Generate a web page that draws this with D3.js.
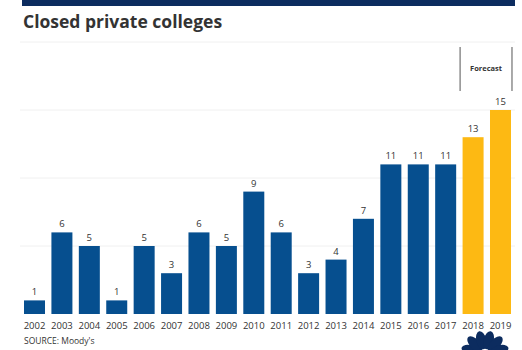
<!DOCTYPE html>
<html>
<head>
<meta charset="utf-8">
<script src="https://cdn.jsdelivr.net/npm/d3@7"></script>
<style>
  html, body { margin: 0; padding: 0; background: #fff; }
  svg { display: block; font-family: "Open Sans", "Lato", sans-serif; }
</style>
</head>
<body>
<svg id="chart" width="522" height="350"></svg>
<script>
// Closed private colleges per year (Moody's); 2018–2019 are forecasts
const years = ["2002","2003","2004","2005","2006","2007","2008","2009","2010",
               "2011","2012","2013","2014","2015","2016","2017","2018","2019"];
const closures = [1, 6, 5, 1, 5, 3, 6, 5, 9, 6, 3, 4, 7, 11, 11, 11, 13, 15];
const forecastYears = ["2018", "2019"];
const gridTicks = [0, 5, 10, 15, 20];

const svg = d3.select("#chart");

const x = d3.scaleBand()
  .domain(years)
  .range([20.8, 514.2])
  .paddingInner(0.234)
  .paddingOuter(0.117);

const y = d3.scaleLinear()
  .domain([0, 20])
  .range([314, 42]);

// header band
svg.append("rect")
  .attr("x", 22).attr("y", 0).attr("width", 493).attr("height", 6)
  .attr("fill", "#0c2c5f");

svg.append("text")
  .attr("x", 23).attr("y", 28)
  .attr("font-size", 17.5)
  .attr("font-weight", 700)
  .attr("fill", "#333")
  .text("Closed private colleges");

// faint horizontal gridlines
svg.append("g")
  .selectAll("line")
  .data(gridTicks.slice(1))
  .join("line")
  .attr("x1", 20).attr("x2", 515)
  .attr("y1", d => y(d)).attr("y2", d => y(d))
  .attr("stroke", "#f0f0f0")
  .attr("stroke-width", 1);

const data = years.map((yr, i) => ({ year: yr, value: closures[i], forecast: forecastYears.includes(yr) }));

// bars
svg.append("g")
  .selectAll("rect")
  .data(data)
  .join("rect")
  .attr("x", d => x(d.year))
  .attr("y", d => y(d.value))
  .attr("width", x.bandwidth())
  .attr("height", d => y(0) - y(d.value))
  .attr("fill", d => d.forecast ? "#fdb913" : "#064f8f");

// value labels
svg.append("g")
  .selectAll("text")
  .data(data)
  .join("text")
  .attr("x", d => x(d.year) + x.bandwidth() / 2)
  .attr("y", d => y(d.value) - 5)
  .attr("text-anchor", "middle")
  .attr("font-size", 9.5)
  .attr("fill", "#333")
  .text(d => d.value);

// x axis labels
const xAxis = d3.axisBottom(x).tickSize(0).tickPadding(8);
const gx = svg.append("g")
  .attr("transform", `translate(0,${y(0)})`)
  .call(xAxis);
gx.select(".domain").remove();
gx.selectAll("text")
  .attr("font-size", 9.5)
  .attr("font-family", "'Open Sans', Lato, sans-serif")
  .attr("fill", "#333");

// forecast bracket
const fx0 = x(forecastYears[0]) - 2.5;
const fx1 = x(forecastYears[1]) + x.bandwidth() + 1;
svg.append("g")
  .selectAll("line")
  .data([fx0, fx1])
  .join("line")
  .attr("x1", d => d).attr("x2", d => d)
  .attr("y1", 47).attr("y2", 91)
  .attr("stroke", "#555")
  .attr("stroke-width", 1);
svg.append("text")
  .attr("x", (fx0 + fx1) / 2).attr("y", 71)
  .attr("text-anchor", "middle")
  .attr("font-size", 7.5)
  .attr("font-weight", 700)
  .attr("fill", "#333")
  .text("Forecast");

// source line
svg.append("text")
  .attr("x", 24).attr("y", 344)
  .attr("font-size", 8.5)
  .attr("fill", "#333")
  .text("SOURCE: Moody's");

// peacock mark, cut off at the bottom edge
const logo = svg.append("g").attr("transform", "translate(485,355)");
const feathers = [-72, -43, -14, 14, 43, 72];
logo.selectAll("ellipse")
  .data(feathers)
  .join("ellipse")
  .attr("cx", 0).attr("cy", -15)
  .attr("rx", 5).attr("ry", 9.5)
  .attr("transform", d => `rotate(${d},0,0)`)
  .attr("fill", "#0c2c5f");
logo.append("circle")
  .attr("cx", 0).attr("cy", 0).attr("r", 6)
  .attr("fill", "#fff");
</script>
</body>
</html>
